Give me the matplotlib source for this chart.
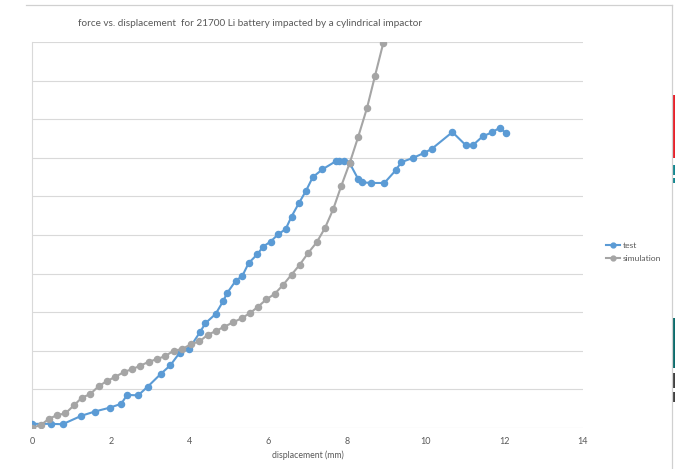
import matplotlib
matplotlib.use("Agg")
import matplotlib.pyplot as plt
from matplotlib.lines import Line2D
from matplotlib.patches import Rectangle

# displacement (mm) and force (grid units) for the measured curve
test_x = [0.0, 0.47, 0.77, 1.25, 1.59, 1.97, 2.26, 2.41, 2.69, 2.93, 3.26, 3.51,
          3.75, 3.98, 4.27, 4.40, 4.66, 4.85, 4.95, 5.17, 5.34, 5.50, 5.72, 5.87,
          6.06, 6.25, 6.44, 6.59, 6.78, 6.96, 7.13, 7.37, 7.71, 7.79, 7.92, 8.07,
          8.28, 8.37, 8.60, 8.95, 9.24, 9.38, 9.68, 9.96, 10.15, 10.68, 11.02,
          11.20, 11.45, 11.68, 11.88, 12.04]
test_y = [0.10, 0.10, 0.09, 0.31, 0.42, 0.52, 0.62, 0.85, 0.84, 1.06, 1.39, 1.62,
          1.95, 2.04, 2.49, 2.71, 2.95, 3.28, 3.49, 3.81, 3.94, 4.27, 4.50, 4.70,
          4.83, 5.02, 5.15, 5.48, 5.83, 6.15, 6.50, 6.70, 6.91, 6.91, 6.91, 6.86,
          6.46, 6.37, 6.35, 6.35, 6.68, 6.89, 7.00, 7.13, 7.23, 7.67, 7.33,
          7.33, 7.56, 7.66, 7.78, 7.65]

# simulated curve
sim_x = [0.0, 0.22, 0.42, 0.64, 0.84, 1.07, 1.26, 1.47, 1.69, 1.90, 2.11, 2.34,
         2.54, 2.75, 2.96, 3.17, 3.38, 3.60, 3.81, 4.04, 4.25, 4.46, 4.67, 4.88,
         5.10, 5.32, 5.53, 5.74, 5.95, 6.16, 6.38, 6.59, 6.80, 7.01, 7.23, 7.44,
         7.65, 7.85, 8.07, 8.28, 8.51, 8.71, 8.92]
sim_y = [0.0, 0.07, 0.23, 0.33, 0.37, 0.59, 0.78, 0.87, 1.08, 1.21, 1.32, 1.45,
         1.52, 1.61, 1.71, 1.78, 1.86, 2.00, 2.04, 2.17, 2.24, 2.41, 2.51, 2.62,
         2.73, 2.84, 2.97, 3.14, 3.33, 3.47, 3.71, 3.97, 4.23, 4.53, 4.81, 5.18,
         5.67, 6.26, 6.87, 7.53, 8.30, 9.12, 9.97]

x_ticks = [0, 2, 4, 6, 8, 10, 12, 14]
title = "force vs. displacement  for 21700 Li battery impacted by a cylindrical impactor"
x_label = "displacement (mm)"

BLUE = "#5b9bd5"
GRAY = "#a5a5a5"
TXT = "#595959"
GRID = "#d9d9d9"

plt.rcParams["font.family"] = ["Lato", "DejaVu Sans"]

W, H = 675, 469
fig = plt.figure(figsize=(W / 100, H / 100), dpi=100)

def fx(px):
    return px / W

def fy(py):
    return 1 - py / H

ax = fig.add_axes([fx(32.3), fy(427.7), fx(583) - fx(32.3), fy(42.3) - fy(427.7)])
ax.set_xlim(0, 14)
ax.set_ylim(0, 10)

ax.plot(test_x, test_y, color=BLUE, lw=1.5, marker="o", ms=4.4, zorder=3)
ax.plot(sim_x, sim_y, color=GRAY, lw=1.5, marker="o", ms=4.4, zorder=3)

ax.set_xticks(x_ticks)
ax.set_xticklabels([str(t) for t in x_ticks], color=TXT, fontsize=6.5)
ax.set_yticks(range(0, 11))
ax.set_yticklabels([])
ax.tick_params(length=0, pad=7)
ax.grid(axis="y", color=GRID, lw=0.8)
ax.set_axisbelow(True)
for side in ("top", "right", "bottom"):
    ax.spines[side].set_visible(False)
ax.spines["left"].set_color(GRID)
ax.spines["left"].set_linewidth(0.8)

fig.text(fx(250), fy(23.5), title, ha="center", va="center", color=TXT, fontsize=7.2)
fig.text(fx(307.5), fy(455), x_label, ha="center", va="center", color=TXT, fontsize=6.3)

handles = [Line2D([], [], color=BLUE, lw=1.5, marker="o", ms=3.5),
           Line2D([], [], color=GRAY, lw=1.5, marker="o", ms=3.5)]
fig.legend(handles, ["test", "simulation"], loc="center left",
           bbox_to_anchor=(fx(598), fy(252)), frameon=False, fontsize=6.1,
           handlelength=1.7, handletextpad=0.3, labelspacing=0.75, labelcolor=TXT)

# chart area border
fig.add_artist(Line2D([fx(26), fx(672)], [fy(5), fy(5)], color="#d0d0d0", lw=0.9))
fig.add_artist(Line2D([fx(672), fx(672)], [fy(5), fy(469)], color="#d0d0d0", lw=0.9))

# neighbouring content visible at the right edge
edge = [(95, 158, "#e8202a"), (165, 175, "#12868f"), (178, 183, "#12868f"),
        (318, 368, "#0b6b6b"), (373, 388, "#404040"), (392, 402, "#404040")]
for top, bot, col in edge:
    fig.add_artist(Rectangle((fx(673), fy(bot)), fx(3), fy(top) - fy(bot),
                             color=col, lw=0))

fig.savefig("out.png", dpi=100)
